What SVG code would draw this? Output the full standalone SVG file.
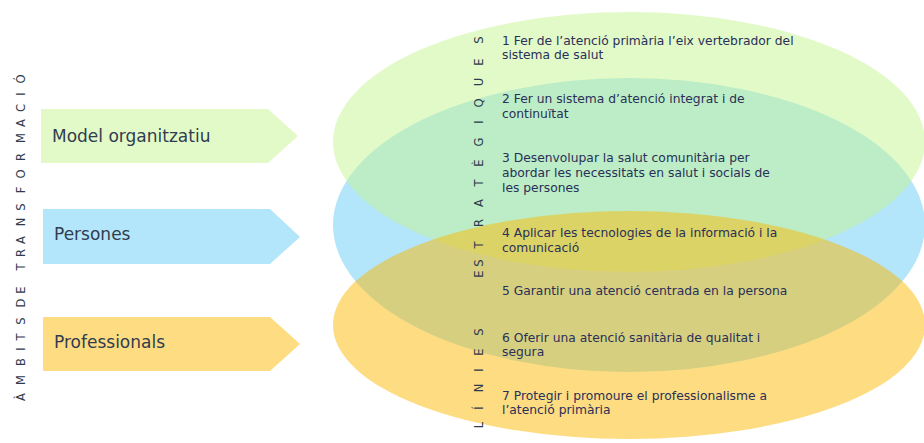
<svg xmlns="http://www.w3.org/2000/svg" width="924" height="443" viewBox="0 0 924 443">
<style>
.lbl{font-family:"DejaVu Sans",Verdana,sans-serif;font-size:17px;fill:#313c4e}
.vt{font-family:"DejaVu Sans",Verdana,sans-serif;font-size:11.5px;fill:#2e3a4d;text-anchor:middle}
.ln{font-family:"DejaVu Sans",Verdana,sans-serif;font-size:12.3px;fill:#2a3058}
</style>
<rect width="924" height="443" fill="#ffffff"/>
<g id="ambits-title">
<text class="vt" transform="rotate(-90)" y="25" x="-397 -380 -362 -349 -337 -321 -312 -303 -290 -279 -267 -253 -240 -222 -207 -190 -174 -157 -138 -123 -108 -94 -79">ÀMBITS DE TRANSFORMACIÓ</text>
</g>
<g id="node-model">
<polygon points="41,109 268,109 298,136 268,163 41,163" fill="#E2FAC8"/>
<text class="lbl" x="52" y="142">Model organitzatiu</text>
</g>
<g id="node-persones">
<polygon points="43,209 270,209 300,237 270,264 43,264" fill="#B3E5FB"/>
<text class="lbl" x="54" y="240">Persones</text>
</g>
<g id="node-professionals">
<polygon points="43,317 270,317 300,344 270,371 43,371" fill="#FDDC82"/>
<text class="lbl" x="54" y="348">Professionals</text>
</g>
<g id="ellipses">
<ellipse id="ellipse-persones" cx="629" cy="225" rx="296" ry="147" fill="#B3E5FB"/>
<ellipse id="ellipse-model" cx="629" cy="142" rx="296" ry="130" fill="#C5F591" fill-opacity="0.5"/>
<ellipse id="ellipse-professionals" cx="629" cy="325" rx="296" ry="114" fill="#FBB905" fill-opacity="0.5"/>
</g>
<g id="linies-title">
<text class="vt" transform="rotate(-90)" y="483" x="-425 -408 -388 -370 -352 -332 -303 -274 -263 -245 -223 -203 -183 -163 -142 -122 -103 -82 -62 -40">LÍNIES ESTRATÈGIQUES</text>
</g>
<g id="linies">
<text class="ln" x="502" y="45">1 Fer de l’atenció primària  l’eix vertebrador del</text>
<text class="ln" x="502" y="59">sistema de salut</text>
<text class="ln" x="502" y="103">2 Fer un sistema d’atenció integrat i de</text>
<text class="ln" x="502" y="118">continuïtat</text>
<text class="ln" x="502" y="162">3 Desenvolupar  la salut comunitària per</text>
<text class="ln" x="502" y="177">abordar  les necessitats en salut i socials de</text>
<text class="ln" x="502" y="192">les persones</text>
<text class="ln" x="502" y="237">4 Aplicar les  tecnologies de la informació  i la</text>
<text class="ln" x="502" y="252">comunicació</text>
<text class="ln" x="502" y="295">5 Garantir una atenció centrada en la persona</text>
<text class="ln" x="502" y="342">6 Oferir una atenció sanitària de qualitat i</text>
<text class="ln" x="502" y="356">segura</text>
<text class="ln" x="502" y="400">7 Protegir i promoure  el professionalisme  a</text>
<text class="ln" x="502" y="414">l’atenció primària</text>
</g>
</svg>
